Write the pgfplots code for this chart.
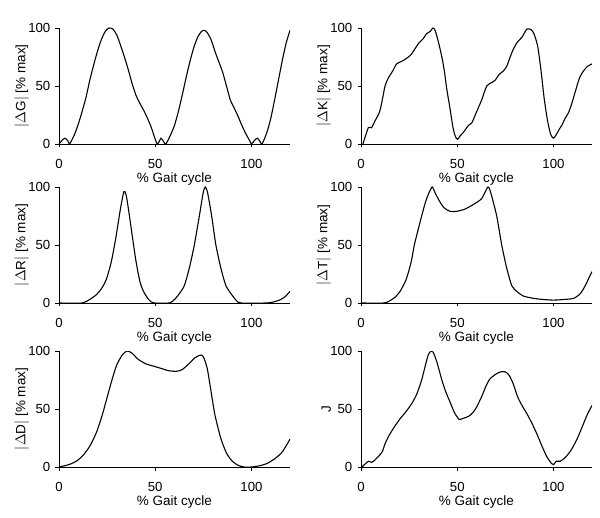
\documentclass[border=0pt]{standalone}
\usepackage{fontspec}
\setmainfont{Liberation Sans}
\usepackage{pgfplots}
\pgfplotsset{compat=1.18}
\pgfplotsset{gait/.style={
  width=231pt,height=116pt,scale only axis,
  xmin=0,xmax=120,ymin=0,ymax=100,
  axis lines*=left, axis line style={-,line width=0.8pt},
  xtick={0,50,100}, ytick={0,50,100},
  xtick pos=bottom, ytick pos=left,
  major tick length=3.5pt, tick align=outside,
  xtick style={black,line width=0.8pt},
  ytick style={black,line width=0.8pt},
  /pgf/number format/assume math mode=true,
  tick label style={font=\fontsize{13.2}{15}\selectfont, inner sep=1pt},
  label style={font=\fontsize{13.5}{15}\selectfont, inner sep=1pt},
  xticklabel style={yshift=-11pt},
  yticklabel style={xshift=-4pt},
  xlabel={\% Gait cycle},
  xlabel style={yshift=-1pt},
  ylabel style={yshift=-3pt},
}}
\tikzset{curve/.style={black,line width=1.1pt,smooth,tension=0.4,mark=none}}
\begin{document}
\begin{tikzpicture}[x=1pt,y=1pt]
\useasboundingbox (0,0) rectangle (600,517);
% Panel 1
\begin{axis}[gait, at={(59pt,373pt)}, ylabel={$|$\kern0.5pt$\Delta$G$|$ [\% max]}]
\addplot[curve] coordinates {(0,0) (1.5,3) (3,5) (4.5,3) (5.5,0) (8,8) (10,17) (12,28) (14,40) (16,55) (18,68) (20,80) (22,90) (24,97) (26,100) (28,99) (30,94) (32,85) (34,75) (36,64) (38,52) (40,42) (42,35) (44,29) (46,22) (48,14) (50,4) (51,0) (52,2) (53,5) (54,3) (55.5,0) (58,8) (60,16) (62,28) (64,42) (66,57) (68,71) (70,83) (72,92) (74,97) (75.5,98) (77,96) (79,90) (81,80) (83,71) (85,62) (87,50) (89,38) (91,31) (93,24) (95,16) (97,9) (99,3) (100,0) (101.5,3) (103,5) (104.5,2) (105.5,0) (108,10) (110,22) (112,38) (114,55) (116,72) (118,87) (120,98)};
\end{axis}
% Panel 2
\begin{axis}[gait, at={(361pt,373pt)}, ylabel={$|$\kern0.5pt$\Delta$K$|$ [\% max]}]
\addplot[curve] coordinates {(1,0) (3.8,14) (5.5,14) (7.3,20) (9.5,27) (10.7,35) (12.5,50) (14.2,57) (16.5,63) (18.5,69) (22,72) (24.6,75) (26,77) (28,82) (30,87) (32.4,91) (34,95) (35.9,97) (37.3,100) (38.5,98) (40.2,88) (42,75) (43.3,63) (44.5,48) (46.3,30) (47.7,15) (48.9,7) (50.1,4) (51.5,7) (53.2,10) (55.8,16) (57.5,18) (60.1,28) (62.7,38) (65.3,50) (68,53) (69.7,55) (71.8,60) (74,63) (75.7,67) (77.5,75) (79.2,82) (81.3,88) (83.6,92) (85.3,97) (86.1,99) (87.9,99) (89.6,96) (91.7,85) (93.4,65) (95.1,40) (96.9,20) (98.6,8) (100,5) (101.4,8) (103.1,13) (104.3,16) (106,22) (107.8,27) (109.5,35) (111.3,45) (113.5,57) (115.6,63) (117.7,67) (120,69)};
\end{axis}
% Panel 3
\begin{axis}[gait, at={(59pt,214pt)}, ylabel={$|$\kern0.5pt$\Delta$R$|$ [\% max]}]
\addplot[curve] coordinates {(0,0) (12,0) (15.9,3) (19.3,7) (21.9,12) (24.5,20) (27.1,35) (29.4,55) (31.8,80) (33.7,96) (34.9,93) (36.6,75) (38.3,55) (40.1,35) (42.1,18) (43.9,10) (46.1,4) (47.8,1) (49.5,0) (57.3,0) (60,3) (62.5,8) (65.1,15) (67.7,30) (70.3,50) (72.9,75) (74.9,95) (76,100) (77.2,95) (79.3,75) (81.5,50) (84.1,30) (86.7,15) (89.8,7) (92.2,2) (94.5,0) (107.4,0) (111.7,1) (115.2,3) (117.8,6) (120,10)};
\end{axis}
% Panel 4
\begin{axis}[gait, at={(361pt,214pt)}, ylabel={$|$\kern0.5pt$\Delta$T$|$ [\% max]}]
\addplot[curve] coordinates {(0,0) (12,0) (15,2) (17.7,5) (20.3,10) (23.4,20) (26,35) (27.7,50) (29.5,62) (31.5,75) (33.5,87) (35.3,95) (37,100) (38.5,95) (40.7,88) (43.2,82) (46.3,79) (49.7,79) (54.1,81) (58.4,85) (62.7,90) (65.9,100) (67.4,95) (70.5,75) (73.1,50) (75.7,30) (78.3,15) (80.9,10) (84.4,6) (89.6,4) (94.8,3) (100,2.5) (105.2,3) (110.4,4) (113.9,8) (116.5,15) (118.5,22) (120,27)};
\end{axis}
% Panel 5
\begin{axis}[gait, at={(59pt,50pt)}, ylabel={$|$\kern0.5pt$\Delta$D$|$ [\% max]}]
\addplot[curve] coordinates {(0,0) (5,2) (9,5) (12.5,10) (16,18) (19.5,30) (22.5,45) (25,60) (27.5,75) (30,88) (33,97) (35.5,100) (38,98) (41,93) (45,89) (49,87) (53,85) (57,83) (61,82.5) (64,84) (67.5,89) (70.5,94) (73.5,96.5) (75,95) (77,85) (79,65) (81,45) (84,25) (87,12) (90,5) (93,1.5) (96,0) (100,0) (104,1) (108,3) (112,7) (116,13) (120,24)};
\end{axis}
% Panel 6
\begin{axis}[gait, at={(361pt,50pt)}, ylabel={J}]
\addplot[curve] coordinates {(0.5,0) (3,4) (4,5) (5.5,4) (6.5,5) (9,9) (11,13) (12.5,20) (14.5,27) (17.5,35) (20.5,42) (23.5,48) (26.5,55) (29,63) (31.5,75) (33.5,88) (35,97) (36.5,100) (37.5,99) (39.5,90) (42,75) (44,65) (46.5,55) (48.5,47) (51,41) (53,42) (55,43) (57,45) (59.5,50) (62.5,60) (65,70) (67,76) (70,80) (72.5,82) (75,82) (77,79) (79,72) (81.5,60) (84,52) (86.5,45) (89,37) (91.5,28) (94,18) (96.5,9) (99,3) (100,2) (101.5,5) (103.5,5) (106,8) (108.5,13) (110,17) (112.5,25) (115,35) (117.5,45) (120,53)};
\end{axis}
\end{tikzpicture}
\end{document}
